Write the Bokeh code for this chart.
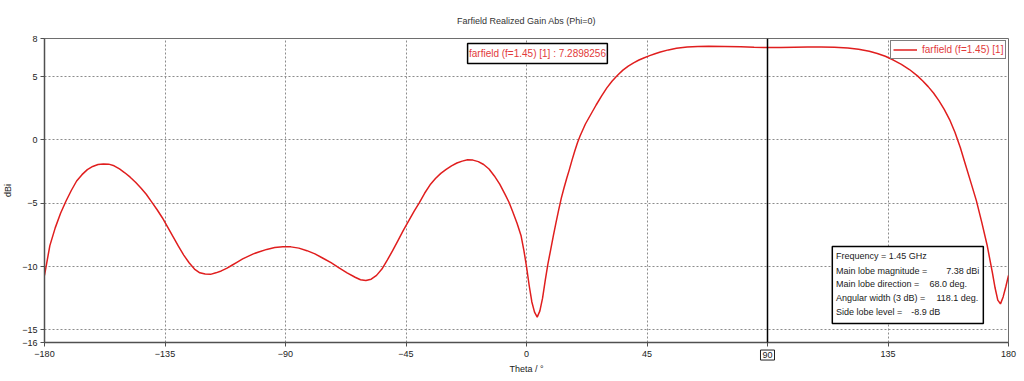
from bokeh.plotting import figure
from bokeh.models import FixedTicker, Span, BoxAnnotation, Label
from bokeh.embed import file_html
from bokeh.resources import INLINE

# ---- data ----
theta = [-180, -178, -176, -174, -172, -170, -168, -166, -164, -162,
         -160, -158, -156, -154, -152, -150, -148, -146, -144, -142,
         -140, -138, -136, -134, -132, -130, -128, -126, -124, -122,
         -120, -118, -116, -114, -112, -110, -108, -106, -104, -102,
         -100, -97, -94, -91, -88, -85, -82, -79, -76, -73,
         -70, -67, -64, -62, -60, -58, -56, -54, -52, -50,
         -48, -46, -44, -42, -40, -38, -36, -34, -32, -30,
         -28, -26, -24, -22, -20, -18, -16, -14, -12, -10,
         -8, -6.5, -5, -3.5, -2, -1, 0, 1, 2, 3,
         4, 5, 6, 7, 8, 9, 10, 11, 12, 13,
         14, 15, 16, 17, 18, 19, 20, 22, 24, 26,
         28, 30, 32, 34, 36, 38, 40, 42, 44, 46,
         48, 50, 53, 56, 60, 64, 68, 74, 80, 85,
         90, 95, 100, 105, 110, 115, 120, 124, 128, 131,
         134, 137, 140, 143, 146, 148, 150, 152, 154, 156,
         158, 160, 162, 164, 166, 168, 170, 172, 174, 175,
         176, 177, 178, 179, 180]
gain = [-10.7, -8.35, -6.95, -5.8, -4.85, -4.0, -3.25, -2.75, -2.35, -2.1,
        -1.95, -1.9, -1.92, -2.05, -2.3, -2.6, -2.95, -3.35, -3.8, -4.3,
        -4.9, -5.5, -6.15, -6.9, -7.65, -8.4, -9.1, -9.7, -10.2, -10.5,
        -10.6, -10.62, -10.5, -10.35, -10.15, -9.9, -9.65, -9.4, -9.2, -9.0,
        -8.85, -8.65, -8.5, -8.45, -8.45, -8.55, -8.75, -9.0, -9.35, -9.7,
        -10.1, -10.5, -10.85, -11.05, -11.1, -11.0, -10.7, -10.2, -9.5, -8.75,
        -7.95, -7.15, -6.4, -5.65, -4.95, -4.2, -3.55, -3.05, -2.65, -2.33,
        -2.05, -1.83, -1.68, -1.58, -1.6, -1.72, -1.95, -2.3, -2.85, -3.5,
        -4.3, -4.95, -5.75, -6.6, -7.6, -8.7, -10.0, -11.5, -12.8, -13.6,
        -14.0, -13.5, -12.5, -11.1, -9.8, -8.7, -7.6, -6.55, -5.55, -4.6,
        -3.8, -3.05, -2.35, -1.6, -0.9, -0.25, 0.3, 1.25, 2.0, 2.75,
        3.45, 4.1, 4.65, 5.1, 5.5, 5.82, 6.08, 6.3, 6.48, 6.65,
        6.8, 6.93, 7.1, 7.23, 7.33, 7.37, 7.38, 7.37, 7.35, 7.31,
        7.29, 7.29, 7.31, 7.33, 7.33, 7.3, 7.25, 7.15, 7.0, 6.82,
        6.6, 6.3, 5.95, 5.55, 5.05, 4.65, 4.2, 3.7, 3.1, 2.4,
        1.6, 0.6, -0.6, -2.0, -3.4, -4.8, -6.5, -8.3, -10.5, -11.7,
        -12.65, -12.95, -12.4, -11.6, -10.7]

x_ticks = [-180, -135, -90, -45, 0, 45, 90, 135, 180]
y_ticks = [8, 5, 0, -5, -10, -15, -16]

series_name = "farfield (f=1.45) [1]"
marker_theta = 90
marker_value = 7.2898256

info_lines = ["Frequency = 1.45 GHz", "Main lobe magnitude =", "Main lobe direction =",
              "Angular width (3 dB) =", "Side lobe level ="]
info_values = ["", "7.38 dBi", "68.0 deg.", "118.1 deg.", "-8.9 dB"]

title_text = "Farfield Realized Gain Abs (Phi=0)"
x_label = "Theta / \u00b0"
y_label = "dBi"

# ---- styling ----
FONT = "Liberation Sans"
RED = "#e01e1e"
TXT_RED = "#e23a3a"
AXIS = "#505050"
GRID = "#8c8c8c"

p = figure(frame_width=964, frame_height=304,
           min_border_left=44, min_border_right=16, min_border_top=38, min_border_bottom=39,
           x_range=(-180, 180), y_range=(-16, 8),
           output_backend="svg", toolbar_location=None, title=title_text)
p.background_fill_color = "white"
p.border_fill_color = "white"
p.outline_line_color = "#6e6e6e"
p.outline_line_width = 1

p.title.align = "center"
p.title.text_font = FONT
p.title.text_font_size = "9px"
p.title.text_font_style = "normal"
p.title.text_color = "#333333"
p.title.standoff = 26

p.xaxis.ticker = FixedTicker(ticks=x_ticks)
p.yaxis.ticker = FixedTicker(ticks=y_ticks)
p.xaxis.major_label_overrides = {marker_theta: ""}
for ax in (p.xaxis, p.yaxis):
    ax.axis_line_color = AXIS
    ax.axis_line_width = 1.5
    ax.major_tick_line_color = AXIS
    ax.major_tick_in = 0
    ax.major_tick_out = 4
    ax.minor_tick_line_color = None
    ax.major_label_text_font = FONT
    ax.major_label_text_font_size = "9px"
    ax.major_label_text_color = "#222222"
    ax.axis_label_text_font = FONT
    ax.axis_label_text_font_size = "9px"
    ax.axis_label_text_font_style = "normal"
    ax.axis_label_text_color = "#222222"
p.xaxis.axis_label = x_label
p.yaxis.axis_label = y_label
p.xaxis.major_label_standoff = 4
p.yaxis.major_label_standoff = 3
p.xaxis.axis_label_standoff = 4
p.yaxis.axis_label_standoff = 6

p.xgrid.ticker = FixedTicker(ticks=[t for t in x_ticks if t != marker_theta])
p.ygrid.ticker = FixedTicker(ticks=y_ticks)
for g in (p.xgrid, p.ygrid):
    g.grid_line_color = GRID
    g.grid_line_dash = "2 2"
    g.grid_line_width = 1

p.line(theta, gain, line_color=RED, line_width=1.5, legend_label=series_name)

# marker line at theta = 90
p.add_layout(Span(location=marker_theta, dimension="height", line_color="black", line_width=1.5))
p.add_layout(Label(x=marker_theta, y=-16.99, text=str(marker_theta), text_align="center",
                   text_baseline="middle", text_font=FONT, text_font_size="9px",
                   text_color="#222222", border_line_color="#222222", border_line_width=1,
                   background_fill_color="white", padding=2), "below")

# marker value box
p.add_layout(BoxAnnotation(left=-22.0, right=30.2, top=7.6, bottom=6.03,
                           fill_color="white", fill_alpha=1, line_color="black",
                           line_alpha=1, line_width=1.5))
p.add_layout(Label(x=4.1, y=6.8, text=f"{series_name} : {marker_value}", text_align="center",
                   text_baseline="middle", text_font=FONT, text_font_size="10px", text_color=TXT_RED))

# info box
p.add_layout(BoxAnnotation(left=114.2, right=170.6, top=-8.42, bottom=-14.5,
                           fill_color="white", fill_alpha=1, line_color="black",
                           line_alpha=1, line_width=1.5))
line_y = [-9.21, -10.35, -11.42, -12.5, -13.63]
val_x = [None, 169.1, 150.5, 153.1, 143.7]
val_align = [None, "right", "left", "left", "left"]
for txt, val, yy, vx, va in zip(info_lines, info_values, line_y, val_x, val_align):
    p.add_layout(Label(x=115.6, y=yy, text=txt, text_align="left", text_baseline="middle",
                       text_font=FONT, text_font_size="9px", text_color="#1a1a1a"))
    if val:
        p.add_layout(Label(x=vx, y=yy, text=val, text_align=va, text_baseline="middle",
                           text_font=FONT, text_font_size="9px", text_color="#1a1a1a"))

# legend
lg = p.legend[0]
lg.location = (846, 283)
lg.label_text_font = FONT
lg.label_text_font_size = "10px"
lg.label_text_color = TXT_RED
lg.border_line_color = "black"
lg.border_line_width = 1.5
lg.background_fill_color = "white"
lg.background_fill_alpha = 1
lg.padding = 2
lg.margin = 0
lg.spacing = 0
lg.glyph_width = 24
lg.glyph_height = 13
lg.label_height = 13
lg.label_standoff = 5

open("out.html", "w").write(file_html(p, INLINE))
